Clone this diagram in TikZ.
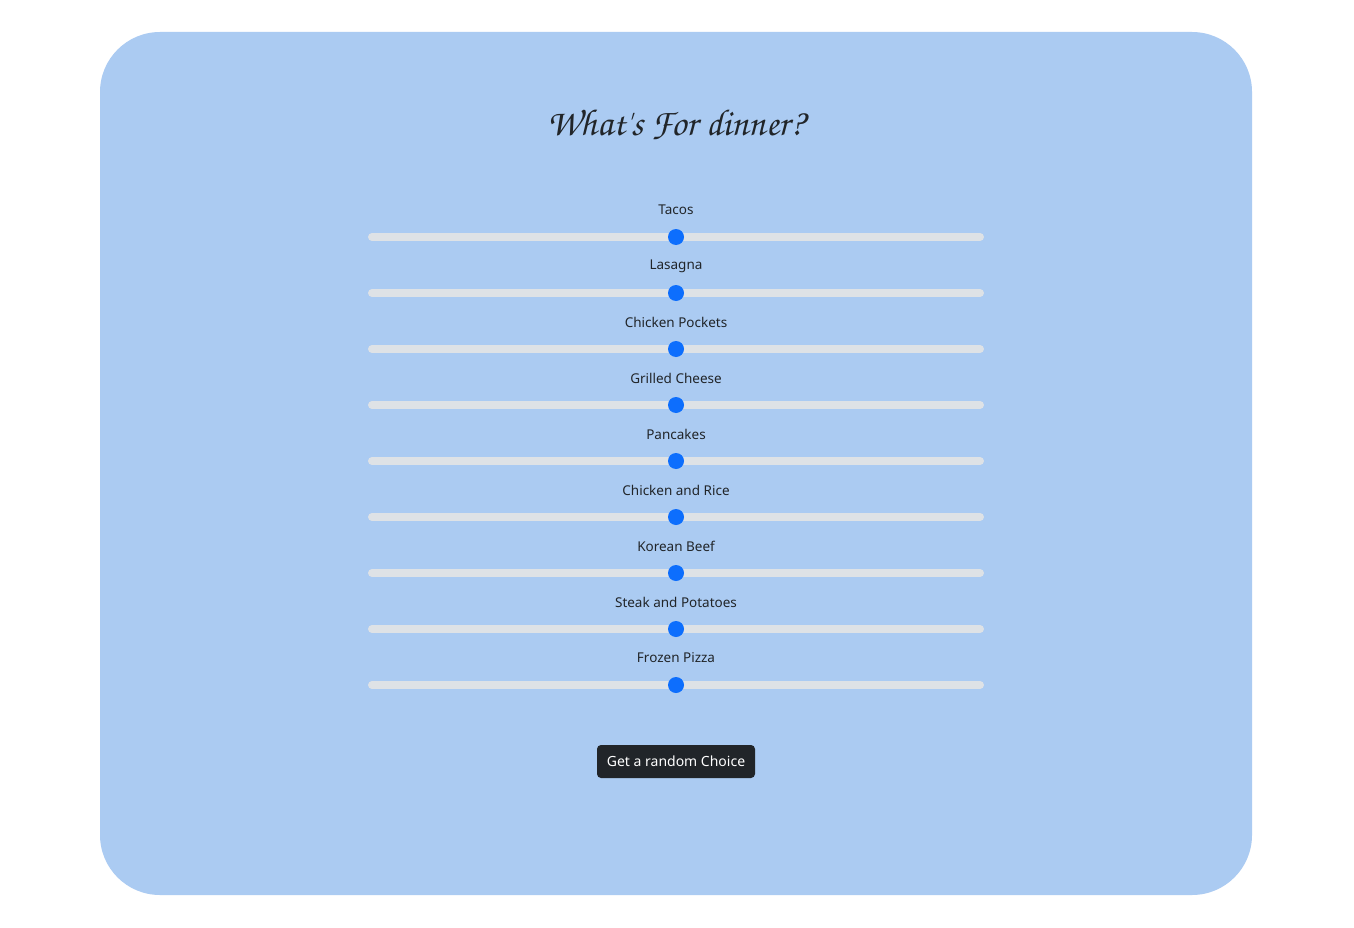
\documentclass[tikz,border=0pt]{standalone}
\usepackage{fontspec}
\setmainfont{Noto Sans}
\newfontfamily\titlefont{texgyrechorus-mediumitalic.otf}
\definecolor{cardbg}{HTML}{ABCBF2}
\definecolor{trackc}{HTML}{DEE2E6}
\definecolor{thumbc}{HTML}{0D6EFD}
\definecolor{textc}{HTML}{212529}
\tikzset{
  lbl/.style={font=\fontsize{13.5}{15}\selectfont, text=textc, inner sep=0pt},
  track/.style={draw=trackc, line width=8pt, line cap=round},
  thumb/.style={circle, fill=thumbc, minimum size=16pt, inner sep=0pt},
  btn/.style={rectangle, rounded corners=4pt, fill=textc, text=white, minimum width=158pt, minimum height=33pt, inner sep=0pt, font=\fontsize{14}{16}\selectfont},
}
\begin{document}
\begin{tikzpicture}[x=1pt,y=-1pt]
\useasboundingbox (0,0) rectangle (1354,928);
\fill[white] (0,0) rectangle (1354,928);
\fill[cardbg, rounded corners=60pt] (100,32) rectangle (1252,895);
\node[font=\titlefont\fontsize{37.5}{42}\selectfont, text=textc] (title) at (676,125) {What's For dinner?};
\foreach \name [count=\i from 0] in {Tacos,Lasagna,Chicken Pockets,Grilled Cheese,Pancakes,Chicken and Rice,Korean Beef,Steak and Potatoes,Frozen Pizza}{
  \pgfmathsetmacro{\ly}{210+56*\i}
  \pgfmathsetmacro{\ty}{237+56*\i}
  \node[lbl] (l\i) at (676,\ly) {\name};
  \coordinate (a\i) at (372,\ty);
  \coordinate (b\i) at (980,\ty);
  \draw[track] (a\i) -- (b\i);
  \node[thumb] (t\i) at (676,\ty) {};
}
\node[btn] (button) at (676,761.5) {Get a random Choice};
\end{tikzpicture}
\end{document}
